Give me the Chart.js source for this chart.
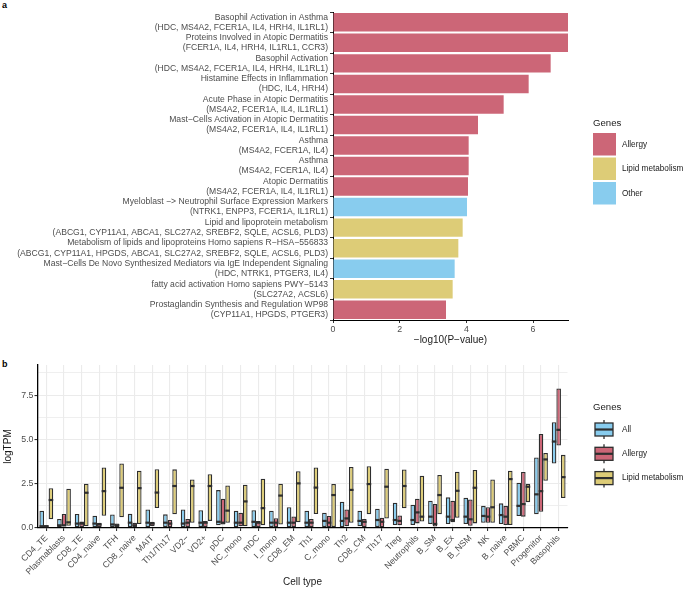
<!DOCTYPE html>
<html>
<head>
<meta charset="utf-8">
<script src="https://cdn.jsdelivr.net/npm/chart.js@4.4.1/dist/chart.umd.min.js"></script>
<style>
  body { margin: 0; width: 685px; height: 590px; background: #fff; position: relative; overflow: hidden; font-family: 'Liberation Sans', Arial, sans-serif; }
  canvas { position: absolute; left: 0; }
  #chartA { top: 0; }
  #chartB { top: 355px; }
  .tag { position: absolute; left: 2px; font-weight: bold; font-size: 9px; line-height: 10px; }
</style>
</head>
<body>
<div class="tag" style="top:0px">a</div>
<div class="tag" style="top:359px">b</div>
<canvas id="chartA" width="685" height="350"></canvas>
<canvas id="chartB" width="685" height="235"></canvas>
<script>
// ---- panel a : enrichment ----
const pathways = [
  'Basophil Activation in Asthma',
  'Proteins Involved in Atopic Dermatitis',
  'Basophil Activation',
  'Histamine Effects in Inflammation',
  'Acute Phase in Atopic Dermatitis',
  'Mast\u2212Cells Activation in Atopic Dermatitis',
  'Asthma',
  'Asthma',
  'Atopic Dermatitis',
  'Myeloblast \u2212> Neutrophil Surface Expression Markers',
  'Lipid and lipoprotein metabolism',
  'Metabolism of lipids and lipoproteins Homo sapiens R\u2212HSA\u2212556833',
  'Mast\u2212Cells De Novo Synthesized Mediators via IgE Independent Signaling',
  'fatty acid activation Homo sapiens PWY\u22125143',
  'Prostaglandin Synthesis and Regulation WP98'
];
const pathwayGenes = [
  '(HDC, MS4A2, FCER1A, IL4, HRH4, IL1RL1)',
  '(FCER1A, IL4, HRH4, IL1RL1, CCR3)',
  '(HDC, MS4A2, FCER1A, IL4, HRH4, IL1RL1)',
  '(HDC, IL4, HRH4)',
  '(MS4A2, FCER1A, IL4, IL1RL1)',
  '(MS4A2, FCER1A, IL4, IL1RL1)',
  '(MS4A2, FCER1A, IL4)',
  '(MS4A2, FCER1A, IL4)',
  '(MS4A2, FCER1A, IL4, IL1RL1)',
  '(NTRK1, ENPP3, FCER1A, IL1RL1)',
  '(ABCG1, CYP11A1, ABCA1, SLC27A2, SREBF2, SQLE, ACSL6, PLD3)',
  '(ABCG1, CYP11A1, HPGDS, ABCA1, SLC27A2, SREBF2, SQLE, ACSL6, PLD3)',
  '(HDC, NTRK1, PTGER3, IL4)',
  '(SLC27A2, ACSL6)',
  '(CYP11A1, HPGDS, PTGER3)'
];
const negLogP = [7.05, 7.05, 6.53, 5.87, 5.12, 4.35, 4.07, 4.07, 4.05, 4.02, 3.89, 3.76, 3.65, 3.59, 3.39];
const pathwayGroup = ['Allergy', 'Allergy', 'Allergy', 'Allergy', 'Allergy', 'Allergy', 'Allergy', 'Allergy', 'Allergy',
  'Other', 'Lipid metabolism', 'Lipid metabolism', 'Other', 'Lipid metabolism', 'Allergy'];
const groupNames = ['Allergy', 'Lipid metabolism', 'Other'];
const groupColors = ['#CC6677', '#DDCC77', '#88CCEE'];
const xTicksA = [0, 2, 4, 6];

// ---- panel b : expression per cell type ----
const cellTypes = ['CD4_TE', 'Plasmablasts', 'CD8_TE', 'CD4_naive', 'TFH', 'CD8_naive', 'MAIT', 'Th1/Th17', 'VD2\u2212', 'VD2+',
  'pDC', 'NC_mono', 'mDC', 'I_mono', 'CD8_EM', 'Th1', 'C_mono', 'Th2', 'CD8_CM', 'Th17',
  'Treg', 'Neutrophils', 'B_SM', 'B_Ex', 'B_NSM', 'NK', 'B_naive', 'PBMC', 'Progenitor', 'Basophils'];
const allLow  = [0.05, 0.05, 0.05, 0.05, 0.05, 0.05, 0.05, 0.05, 0.05, 0.05, 0.15, 0.05, 0.05, 0.05, 0.05, 0.05, 0.05, 0.05, 0.10, 0.05, 0.17, 0.17, 0.23, 0.23, 0.23, 0.30, 0.23, 0.68, 0.77, 3.64];
const allMed  = [0.10, 0.15, 0.25, 0.25, 0.20, 0.30, 0.30, 0.30, 0.25, 0.30, 0.35, 0.30, 0.35, 0.30, 0.30, 0.30, 0.40, 0.40, 0.40, 0.45, 0.45, 0.45, 0.64, 0.64, 0.64, 0.68, 0.73, 1.25, 1.90, 4.88];
const allHigh = [0.97, 0.51, 0.79, 0.69, 0.76, 0.80, 1.05, 0.77, 1.05, 1.00, 2.14, 0.97, 1.00, 0.98, 1.17, 0.97, 0.86, 1.48, 0.97, 1.09, 1.43, 1.31, 1.54, 1.73, 1.71, 1.25, 1.39, 2.55, 3.98, 5.97];
const allergyLow  = [0.00, 0.10, 0.05, 0.05, 0.05, 0.05, 0.10, 0.05, 0.05, 0.05, 0.20, 0.10, 0.05, 0.05, 0.05, 0.05, 0.05, 0.10, 0.05, 0.05, 0.15, 0.26, 0.08, 0.32, 0.13, 0.30, 0.17, 0.64, 0.92, 4.66];
const allergyMed  = [0.10, 0.15, 0.25, 0.20, 0.15, 0.15, 0.25, 0.25, 0.30, 0.30, 0.30, 0.30, 0.30, 0.30, 0.30, 0.30, 0.30, 0.54, 0.35, 0.35, 0.40, 0.88, 0.23, 0.45, 0.49, 0.64, 0.64, 1.35, 2.08, 5.54];
const allergyHigh = [0.15, 0.79, 0.36, 0.30, 0.25, 0.30, 0.35, 0.45, 0.51, 0.40, 1.65, 0.86, 0.40, 0.55, 0.65, 0.51, 0.68, 1.04, 0.51, 0.58, 0.71, 1.65, 1.35, 1.54, 1.61, 1.17, 1.25, 3.16, 5.30, 7.87];
const lipidLow  = [0.49, 0.13, 0.10, 0.69, 0.60, 0.23, 1.13, 0.77, 0.30, 0.40, 0.30, 0.10, 0.15, 0.20, 0.32, 0.79, 0.06, 0.30, 0.77, 0.54, 1.11, 0.36, 0.77, 0.58, 0.26, 0.30, 0.17, 1.46, 2.66, 1.69];
const lipidMed  = [1.58, 0.32, 1.99, 2.08, 2.27, 2.25, 2.00, 2.37, 2.37, 2.37, 0.98, 1.50, 1.12, 1.83, 2.52, 2.28, 1.86, 2.15, 2.48, 2.33, 2.37, 0.64, 1.86, 2.10, 2.27, 1.17, 2.76, 2.33, 3.87, 2.87];
const lipidHigh = [2.24, 2.22, 2.50, 3.42, 3.64, 3.23, 3.32, 3.31, 2.74, 3.04, 2.40, 2.44, 2.78, 2.50, 3.21, 3.42, 2.48, 3.44, 3.49, 3.34, 3.30, 2.95, 2.99, 3.18, 3.27, 2.74, 3.23, 2.50, 4.24, 4.13];
const yTicksB = [0, 2.5, 5, 7.5];

const FONT = "'Liberation Sans', Arial, sans-serif";
const TICK_GREY = '#4D4D4D';
const BOX_EDGE = '#2e2e2e';
Chart.defaults.font.family = FONT;
Chart.defaults.animation = false;

// legend for panel a, drawn from the datasets
const legendA = {
  id: 'legendA',
  afterDraw(chart) {
    const ctx = chart.ctx;
    ctx.save();
    ctx.textBaseline = 'middle';
    ctx.fillStyle = '#1a1a1a';
    ctx.font = '9.6px ' + FONT;
    ctx.fillText('Genes', 593, 123);
    ctx.font = '8.2px ' + FONT;
    chart.data.datasets.forEach((ds, i) => {
      const y = 133 + i * 24.5;
      ctx.fillStyle = ds.backgroundColor;
      ctx.fillRect(593, y, 23, 22.5);
      ctx.fillStyle = '#1a1a1a';
      ctx.fillText(ds.label, 622, y + 11.5);
    });
    ctx.restore();
  }
};

new Chart(document.getElementById('chartA'), {
  type: 'bar',
  data: {
    labels: pathways.map((p, i) => [p, pathwayGenes[i]]),
    datasets: groupNames.map((g, k) => ({
      label: g,
      data: negLogP.map((v, i) => pathwayGroup[i] === g ? v : null),
      backgroundColor: groupColors[k],
      borderWidth: 0,
      barPercentage: 0.9,
      categoryPercentage: 1.0
    }))
  },
  options: {
    indexAxis: 'y',
    responsive: false,
    layout: { padding: { left: 0, right: 117, top: 3, bottom: 0 } },
    plugins: { legend: { display: false }, tooltip: { enabled: false } },
    scales: {
      x: {
        stacked: true,
        min: 0, max: 7.05,
        afterFit(scale) { scale.height = 30; },
        afterBuildTicks(scale) { scale.ticks = xTicksA.map(v => ({ value: v })); },
        ticks: { color: TICK_GREY, font: { size: 8.8 }, padding: 1 },
        grid: { drawOnChartArea: false, tickLength: 3, tickColor: '#333' },
        border: { color: '#000', width: 1 },
        title: { display: true, text: '\u2212log10(P\u2212value)', color: '#1a1a1a', font: { size: 10 }, padding: { top: 1, bottom: 4 } }
      },
      y: {
        stacked: true,
        afterFit(scale) { scale.width = 333; },
        ticks: { color: TICK_GREY, font: { size: 8.6, lineHeight: 1.17 }, padding: 2, autoSkip: false },
        grid: { drawOnChartArea: false, tickLength: 3, tickColor: '#333' },
        border: { color: '#000', width: 1 }
      }
    }
  },
  plugins: [legendA]
});

// median bars of the boxes
const medianLines = {
  id: 'medianLines',
  afterDatasetsDraw(chart) {
    const ctx = chart.ctx, yScale = chart.scales.y;
    ctx.save();
    ctx.strokeStyle = BOX_EDGE;
    ctx.lineWidth = 2.2;
    chart.data.datasets.forEach((ds, di) => {
      chart.getDatasetMeta(di).data.forEach((bar, i) => {
        const y = yScale.getPixelForValue(ds.medians[i]);
        ctx.beginPath();
        ctx.moveTo(bar.x - bar.width / 2, y);
        ctx.lineTo(bar.x + bar.width / 2, y);
        ctx.stroke();
      });
    });
    ctx.restore();
  }
};

// legend for panel b with little box glyphs
const legendB = {
  id: 'legendB',
  afterDraw(chart) {
    const ctx = chart.ctx;
    ctx.save();
    ctx.textBaseline = 'middle';
    ctx.fillStyle = '#1a1a1a';
    ctx.font = '9.6px ' + FONT;
    ctx.fillText('Genes', 593, 52);
    ctx.font = '8.2px ' + FONT;
    chart.data.datasets.forEach((ds, i) => {
      const cy = 74.5 + i * 24.3;
      ctx.strokeStyle = BOX_EDGE;
      ctx.lineWidth = 1.3;
      ctx.beginPath();
      ctx.moveTo(604, cy - 9.5); ctx.lineTo(604, cy + 9.5);
      ctx.stroke();
      ctx.fillStyle = ds.backgroundColor;
      ctx.fillRect(595, cy - 6.5, 18, 13);
      ctx.strokeRect(595, cy - 6.5, 18, 13);
      ctx.lineWidth = 2.2;
      ctx.beginPath();
      ctx.moveTo(595, cy); ctx.lineTo(613, cy);
      ctx.stroke();
      ctx.fillStyle = '#1a1a1a';
      ctx.fillText(ds.label, 622, cy);
    });
    ctx.restore();
  }
};

const boxSet = (label, color, low, high, med) => ({
  label: label,
  data: low.map((v, i) => [v, high[i]]),
  medians: med,
  backgroundColor: color,
  borderColor: BOX_EDGE,
  borderWidth: 1.3,
  borderSkipped: false,
  barPercentage: 1.0,
  categoryPercentage: 0.78
});

new Chart(document.getElementById('chartB'), {
  type: 'bar',
  data: {
    labels: cellTypes,
    datasets: [
      boxSet('All', '#88CCEE', allLow, allHigh, allMed),
      boxSet('Allergy', '#CC6677', allergyLow, allergyHigh, allergyMed),
      boxSet('Lipid metabolism', '#DDCC77', lipidLow, lipidHigh, lipidMed)
    ]
  },
  options: {
    responsive: false,
    layout: { padding: { left: 0, right: 117.5, top: 10, bottom: 0 } },
    plugins: { legend: { display: false }, tooltip: { enabled: false } },
    scales: {
      x: {
        afterFit(scale) { scale.height = 62; },
        ticks: { color: TICK_GREY, font: { size: 8.7 }, minRotation: 45, maxRotation: 45, autoSkip: false, padding: 2 },
        grid: { offset: false, color: '#EBEBEB', lineWidth: 1.1, tickLength: 3, tickColor: '#333' },
        border: { color: '#000', width: 1.3 },
        title: { display: true, text: 'Cell type', color: '#1a1a1a', font: { size: 10 }, padding: { top: 0, bottom: 2 } }
      },
      y: {
        min: 0, max: 9.2,
        afterFit(scale) { scale.width = 37.5; },
        ticks: {
          stepSize: 1.25, includeBounds: false, color: TICK_GREY, font: { size: 8.8 }, padding: 1,
          callback: (v) => yTicksB.includes(v) ? v.toFixed(1) : ''
        },
        grid: {
          color: '#EBEBEB',
          lineWidth: (c) => c.tick && yTicksB.includes(c.tick.value) ? 1.1 : 0.8,
          tickLength: 3,
          tickColor: (c) => c.tick && yTicksB.includes(c.tick.value) ? '#333' : 'rgba(0,0,0,0)'
        },
        border: { color: '#000', width: 1.3 },
        title: { display: true, text: 'logTPM', color: '#1a1a1a', font: { size: 10 }, padding: { top: 2, bottom: 2 } }
      }
    }
  },
  plugins: [medianLines, legendB]
});
</script>
</body>
</html>
